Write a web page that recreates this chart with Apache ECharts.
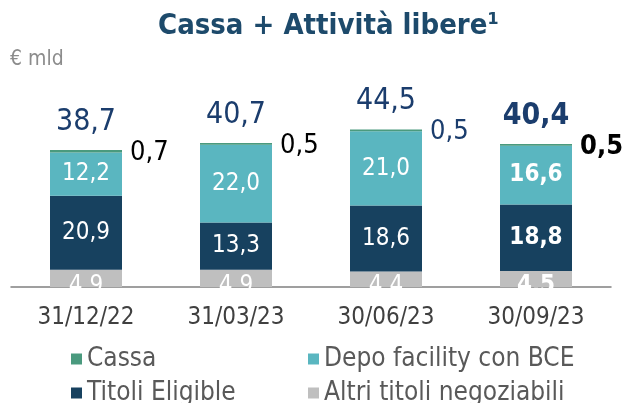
<!DOCTYPE html>
<html>
<head>
<meta charset="utf-8">
<script src="https://cdn.jsdelivr.net/npm/echarts@6/dist/echarts.min.js"></script>
<style>
  html, body { margin: 0; padding: 0; background: #fff; }
  #chart { width: 622px; height: 403px; }
</style>
</head>
<body>
<div id="chart"></div>
<script>
// values in € mld
const categories = ['31/12/22', '31/03/23', '30/06/23', '30/09/23']
const cassa = [0.7, 0.5, 0.5, 0.5]
const depo = [12.2, 22.0, 21.0, 16.6]
const eligible = [20.9, 13.3, 18.6, 18.8]
const altri = [4.9, 4.9, 4.4, 4.5]
const totals = [38.7, 40.7, 44.5, 40.4]

const FONT = '"DejaVu Sans Condensed", "DejaVu Sans", sans-serif'
const NAVY = '#17415f'
const BLUE_TXT = '#1b3d6d'
const lastIdx = categories.length - 1

// italian style decimals
const fmt = v => v.toFixed(1).replace('.', ',')

// last quarter is shown in bold
const withBold = (arr, base, extra) => arr.map((v, i) => ({
  value: v,
  label: Object.assign({}, base, i === lastIdx ? { fontWeight: 'bold' } : {}, extra ? extra(i) : {})
}))

const cassaColors = ['#000', '#000', BLUE_TXT, '#000']

const segLabel = {
  show: true,
  position: 'inside',
  color: '#fff',
  fontFamily: FONT,
  fontSize: 24,
  formatter: p => fmt(p.value)
}

const cassaLabel = {
  show: true,
  position: 'right',
  distance: 8,
  offset: [0, 2],
  fontFamily: FONT,
  fontSize: 27,
  formatter: p => fmt(p.value)
}

const totLabel = {
  show: true,
  position: 'top',
  distance: 13,
  color: BLUE_TXT,
  fontFamily: FONT,
  fontSize: 30,
  formatter: p => fmt(p.value)
}

const chart = echarts.init(document.getElementById('chart'))

chart.setOption({
  animation: false,
  title: [
    {
      text: 'Cassa + Attività libere¹',
      left: 153,
      top: 7,
      textStyle: { color: '#1d4a6b', fontFamily: FONT, fontWeight: 'bold', fontSize: 29 }
    },
    {
      text: '€ mld',
      left: 5,
      top: 44,
      textStyle: { color: '#8c8c8c', fontFamily: FONT, fontWeight: 'normal', fontSize: 21 }
    }
  ],
  // one legend, fixed text width so it wraps into two columns
  legend: {
    data: ['Cassa', 'Depo facility con BCE', 'Titoli Eligible', 'Altri titoli negoziabili'],
    left: 66,
    top: 341,
    width: 530,
    itemWidth: 11,
    itemHeight: 11,
    itemGap: 8,
    icon: 'rect',
    textStyle: {
      color: '#595959',
      fontFamily: FONT,
      fontSize: 26,
      width: 213,
      lineHeight: 24,
      overflow: 'none'
    }
  },
  grid: { left: 11, right: 11, top: 110, bottom: 116 },
  xAxis: {
    type: 'category',
    data: categories,
    axisTick: { show: false },
    axisLine: { lineStyle: { color: '#808080', width: 1.5 } },
    axisLabel: { color: '#404040', fontFamily: FONT, fontSize: 24, margin: 19 }
  },
  yAxis: { type: 'value', min: 0, max: 50, show: false, splitLine: { show: false } },
  series: [
    {
      name: 'Altri titoli negoziabili',
      type: 'bar',
      stack: 'tot',
      barWidth: '48%',
      itemStyle: { color: '#bfbfbf' },
      label: Object.assign({}, segLabel, { offset: [0, 7] }),
      data: withBold(altri, Object.assign({}, segLabel, { offset: [0, 7] }))
    },
    {
      name: 'Titoli Eligible',
      type: 'bar',
      stack: 'tot',
      itemStyle: { color: NAVY },
      label: segLabel,
      data: withBold(eligible, segLabel)
    },
    {
      name: 'Depo facility con BCE',
      type: 'bar',
      stack: 'tot',
      itemStyle: { color: '#5ab6c0' },
      label: segLabel,
      data: withBold(depo, segLabel)
    },
    {
      name: 'Cassa',
      type: 'bar',
      stack: 'tot',
      itemStyle: { color: '#4a9a7e' },
      label: cassaLabel,
      data: withBold(cassa, cassaLabel, i => ({ color: cassaColors[i] }))
    },
    {
      name: 'Totale',
      type: 'scatter',
      symbolSize: 0,
      silent: true,
      itemStyle: { opacity: 1, color: BLUE_TXT },
      label: totLabel,
      data: withBold(totals, totLabel)
    }
  ],
  // white band under the axis line: the slide cuts the bottom labels there
  graphic: [
    {
      type: 'rect',
      z: 100,
      shape: { x: 0, y: 288, width: 622, height: 12 },
      style: { fill: '#fff' }
    }
  ]
})
</script>
</body>
</html>
